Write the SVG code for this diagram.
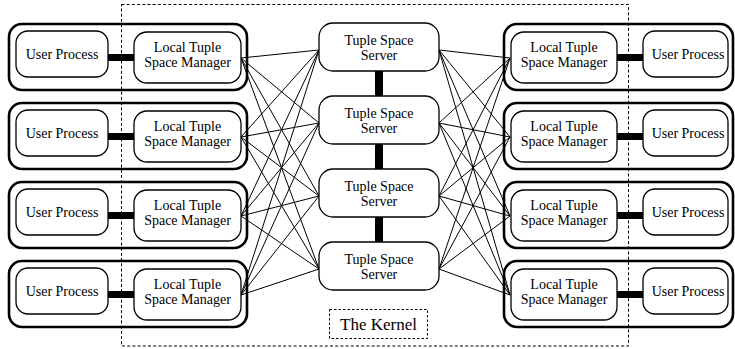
<svg xmlns="http://www.w3.org/2000/svg" width="735" height="349" viewBox="0 0 735 349" font-family="'Liberation Serif', 'DejaVu Serif', serif">
<style>
text{font-family:'Liberation Serif','DejaVu Serif',serif;font-size:14px;fill:#000;text-anchor:middle}
.outer{fill:none;stroke:#000;stroke-width:2.6}
.box{fill:#fff;stroke:#000;stroke-width:1.3}
.thin{stroke:#000;stroke-width:1;fill:none}
.bar{stroke:#000;stroke-width:7}
.sbar{stroke:#000;stroke-width:8}
.kernel{fill:none;stroke:#000;stroke-width:1;stroke-dasharray:3 2.2}
</style>
<rect class="kernel" x="121.5" y="4.5" width="507" height="341.5"/>
<g id="connectors">
<g class="thin">
<path d="M241 58L319 50M241 58L319 123M241 58L319 196M241 58L319 269"/>
<path d="M241 137L319 50M241 137L319 123M241 137L319 196M241 137L319 269"/>
<path d="M241 216L319 50M241 216L319 123M241 216L319 196M241 216L319 269"/>
<path d="M241 295L319 50M241 295L319 123M241 295L319 196M241 295L319 269"/>
<path d="M510 58L439 50M510 58L439 123M510 58L439 196M510 58L439 269"/>
<path d="M510 137L439 50M510 137L439 123M510 137L439 196M510 137L439 269"/>
<path d="M510 216L439 50M510 216L439 123M510 216L439 196M510 216L439 269"/>
<path d="M510 295L439 50M510 295L439 123M510 295L439 196M510 295L439 269"/>
</g>
<g class="bar">
<line x1="108" y1="57.5" x2="134" y2="57.5"/>
<line x1="108" y1="136.5" x2="134" y2="136.5"/>
<line x1="108" y1="215.5" x2="134" y2="215.5"/>
<line x1="108" y1="294.5" x2="134" y2="294.5"/>
<line x1="617" y1="57.5" x2="643" y2="57.5"/>
<line x1="617" y1="136.5" x2="643" y2="136.5"/>
<line x1="617" y1="215.5" x2="643" y2="215.5"/>
<line x1="617" y1="294.5" x2="643" y2="294.5"/>
</g>
<g class="sbar">
<line x1="379" y1="71" x2="379" y2="96"/>
<line x1="379" y1="144" x2="379" y2="169"/>
<line x1="379" y1="217" x2="379" y2="242"/>
</g>
</g>
<g id="left-row-1">
<rect class="outer" x="9" y="24" width="238" height="66" rx="13"/>
<g id="left-up-1"><rect class="box" x="16" y="31" width="92" height="46" rx="12"/><text x="62" y="59">User Process</text></g>
<g id="left-ltsm-1"><rect class="box" x="134" y="32" width="107" height="51" rx="13"/><text x="187.5" y="51.5">Local Tuple</text><text x="187.5" y="66.5">Space Manager</text></g>
</g>
<g id="left-row-2" transform="translate(0,79)">
<rect class="outer" x="9" y="24" width="238" height="66" rx="13"/>
<g id="left-up-2"><rect class="box" x="16" y="31" width="92" height="46" rx="12"/><text x="62" y="59">User Process</text></g>
<g id="left-ltsm-2"><rect class="box" x="134" y="32" width="107" height="51" rx="13"/><text x="187.5" y="51.5">Local Tuple</text><text x="187.5" y="66.5">Space Manager</text></g>
</g>
<g id="left-row-3" transform="translate(0,158)">
<rect class="outer" x="9" y="24" width="238" height="66" rx="13"/>
<g id="left-up-3"><rect class="box" x="16" y="31" width="92" height="46" rx="12"/><text x="62" y="59">User Process</text></g>
<g id="left-ltsm-3"><rect class="box" x="134" y="32" width="107" height="51" rx="13"/><text x="187.5" y="51.5">Local Tuple</text><text x="187.5" y="66.5">Space Manager</text></g>
</g>
<g id="left-row-4" transform="translate(0,237)">
<rect class="outer" x="9" y="24" width="238" height="66" rx="13"/>
<g id="left-up-4"><rect class="box" x="16" y="31" width="92" height="46" rx="12"/><text x="62" y="59">User Process</text></g>
<g id="left-ltsm-4"><rect class="box" x="134" y="32" width="107" height="51" rx="13"/><text x="187.5" y="51.5">Local Tuple</text><text x="187.5" y="66.5">Space Manager</text></g>
</g>
<g id="right-row-1">
<rect class="outer" x="504" y="24" width="229" height="66" rx="13"/>
<g id="right-ltsm-1"><rect class="box" x="511" y="32" width="106" height="51" rx="13"/><text x="564" y="51.5">Local Tuple</text><text x="564" y="66.5">Space Manager</text></g>
<g id="right-up-1"><rect class="box" x="643" y="31" width="85" height="46" rx="12"/><text x="688" y="59">User Process</text></g>
</g>
<g id="right-row-2" transform="translate(0,79)">
<rect class="outer" x="504" y="24" width="229" height="66" rx="13"/>
<g id="right-ltsm-2"><rect class="box" x="511" y="32" width="106" height="51" rx="13"/><text x="564" y="51.5">Local Tuple</text><text x="564" y="66.5">Space Manager</text></g>
<g id="right-up-2"><rect class="box" x="643" y="31" width="85" height="46" rx="12"/><text x="688" y="59">User Process</text></g>
</g>
<g id="right-row-3" transform="translate(0,158)">
<rect class="outer" x="504" y="24" width="229" height="66" rx="13"/>
<g id="right-ltsm-3"><rect class="box" x="511" y="32" width="106" height="51" rx="13"/><text x="564" y="51.5">Local Tuple</text><text x="564" y="66.5">Space Manager</text></g>
<g id="right-up-3"><rect class="box" x="643" y="31" width="85" height="46" rx="12"/><text x="688" y="59">User Process</text></g>
</g>
<g id="right-row-4" transform="translate(0,237)">
<rect class="outer" x="504" y="24" width="229" height="66" rx="13"/>
<g id="right-ltsm-4"><rect class="box" x="511" y="32" width="106" height="51" rx="13"/><text x="564" y="51.5">Local Tuple</text><text x="564" y="66.5">Space Manager</text></g>
<g id="right-up-4"><rect class="box" x="643" y="31" width="85" height="46" rx="12"/><text x="688" y="59">User Process</text></g>
</g>
<g id="server-1"><rect class="box" x="319" y="23" width="120" height="48" rx="14"/><text x="379" y="44.5">Tuple Space</text><text x="379" y="59.5">Server</text></g>
<g id="server-2"><rect class="box" x="319" y="96" width="120" height="48" rx="14"/><text x="379" y="117.5">Tuple Space</text><text x="379" y="132.5">Server</text></g>
<g id="server-3"><rect class="box" x="319" y="169" width="120" height="48" rx="14"/><text x="379" y="190.5">Tuple Space</text><text x="379" y="205.5">Server</text></g>
<g id="server-4"><rect class="box" x="319" y="242" width="120" height="48" rx="14"/><text x="379" y="263.5">Tuple Space</text><text x="379" y="278.5">Server</text></g>
<g id="kernel-label"><rect x="329.5" y="309.5" width="98" height="29" fill="#fff" stroke="#000" stroke-width="1" stroke-dasharray="2.5 2"/><text x="378.5" y="330" style="font-size:17px">The Kernel</text></g>
</svg>
